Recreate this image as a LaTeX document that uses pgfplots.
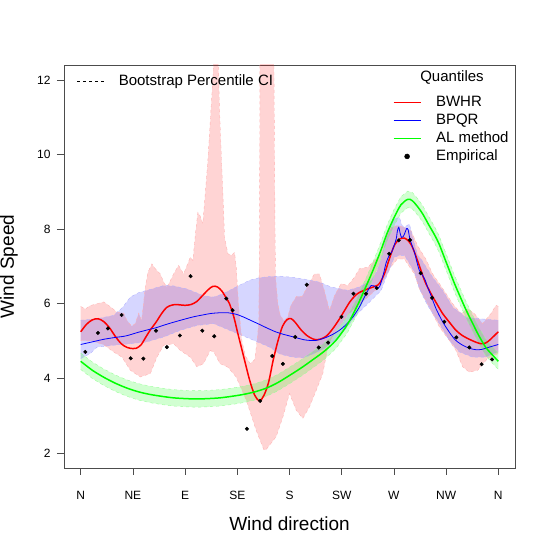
\documentclass[border=0pt]{standalone}
\usepackage{fontspec}
\setmainfont{Liberation Sans}
\usepackage{pgfplots}
\pgfplotsset{compat=1.18}
\usepgfplotslibrary{fillbetween}

\definecolor{rred}{RGB}{255,0,0}
\definecolor{rblue}{RGB}{0,0,255}
\definecolor{rgreen}{RGB}{0,255,0}

% BWHR quantile curve
\pgfplotstableread{
x y
0 5.25
5 5.45
10 5.57
15 5.60
20 5.52
25 5.35
30 5.12
35 4.93
40 4.83
45 4.80
48 4.81
52 4.90
56 5.10
60 5.30
65 5.51
70 5.75
74 5.90
78 5.96
82 5.98
86 5.97
90 5.96
95 5.98
100 6.06
105 6.22
110 6.38
114 6.47
118 6.45
122 6.33
125.5 6.15
128.3 6.00
132 5.65
135.5 5.20
139.8 4.67
145.5 3.97
150 3.55
154.2 3.40
158 3.55
162 3.90
166 4.50
170 5.00
174 5.40
178 5.58
181.5 5.60
185 5.50
190 5.30
195 5.15
200 5.06
204 5.04
208 5.07
212 5.14
216 5.28
220 5.45
224 5.64
228 5.85
232 6.05
236 6.20
240 6.30
247.5 6.40
256 6.50
259 6.62
262 6.82
265 7.10
268 7.38
271 7.60
275 7.74
279 7.76
282 7.70
285 7.58
288 7.36
291 7.10
293.4 6.89
297 6.58
302 6.27
307 6.00
312 5.74
318 5.50
323.5 5.29
329 5.15
335 5.05
340 4.98
345 4.93
349 4.95
352.3 5.02
356 5.13
360 5.25
}\bwhr

% BPQR quantile curve
\pgfplotstableread{
x y
0 4.91
10 4.98
20 5.05
30 5.10
39 5.14
50 5.24
60 5.32
65 5.36
75 5.46
85 5.55
97 5.65
105 5.70
112 5.74
120 5.76
127 5.76
134 5.72
140 5.65
147 5.55
154 5.45
160 5.36
168 5.25
175 5.18
180 5.14
186 5.09
192 5.04
197 5.02
203 5.02
209 5.07
216 5.16
223 5.29
229 5.45
234.5 5.64
240 5.90
244.6 6.18
248 6.38
250.4 6.49
253 6.48
255.5 6.42
257.5 6.45
259 6.58
261 6.80
263.3 7.10
266 7.30
268 7.38
270 7.55
272 7.74
273 7.95
274.2 8.05
275.3 7.90
276.5 7.78
278 7.80
279.5 7.90
281 8.02
282.3 7.98
283.5 7.78
285 7.62
287.7 7.38
290 7.10
292 6.89
295 6.75
297.1 6.63
299 6.45
302 6.22
306.3 5.87
312 5.52
317.8 5.24
323 5.03
329.3 4.89
335 4.81
340.8 4.77
346 4.78
352.3 4.84
360 4.91
}\bpqr

% AL method curve with its band
\pgfplotstableread{
x y lo hi
0 4.46 4.24 4.68
10 4.22 4.00 4.44
20 4.03 3.81 4.25
30 3.87 3.65 4.09
40 3.74 3.52 3.96
50 3.64 3.42 3.86
60 3.57 3.35 3.79
70 3.52 3.30 3.74
80 3.48 3.26 3.70
90 3.46 3.24 3.68
100 3.45 3.23 3.67
110 3.46 3.24 3.68
120 3.48 3.26 3.70
130 3.52 3.30 3.74
140 3.57 3.35 3.79
150 3.64 3.42 3.86
160 3.74 3.52 3.96
170 3.89 3.67 4.11
180 4.08 3.86 4.30
190 4.28 4.06 4.50
200 4.50 4.28 4.72
210 4.73 4.51 4.95
220 5.02 4.80 5.24
230 5.45 5.23 5.67
238 5.92 5.70 6.14
245 6.40 6.18 6.62
252 6.90 6.68 7.12
259 7.45 7.23 7.67
264 7.88 7.66 8.10
270 8.30 8.08 8.52
276 8.65 8.43 8.87
282 8.80 8.58 9.02
286 8.76 8.54 8.98
291 8.58 8.36 8.80
295 8.40 8.18 8.62
300 8.12 7.90 8.34
305 7.85 7.63 8.07
309 7.60 7.38 7.82
314 7.20 6.98 7.42
318 6.88 6.66 7.10
322 6.56 6.34 6.78
326 6.27 6.05 6.49
332 5.85 5.63 6.07
338 5.47 5.25 5.69
343 5.16 4.94 5.38
349 4.84 4.62 5.06
354 4.66 4.44 4.88
360 4.46 4.24 4.68
}\almeth

% BWHR bootstrap percentile CI, upper and lower edge
\pgfplotstableread{
x y
0 5.93
4 5.86
8 5.95
14 6.00
20 6.05
26 5.91
31 5.78
37 5.75
40 5.55
44 5.40
47 5.47
50 5.75
52.5 5.55
55.7 6.45
58 6.85
61.4 7.07
64 6.95
68.6 6.80
72 6.55
74.3 6.45
77 6.60
80.1 6.80
84.4 7.03
88.7 6.80
92 7.05
94.5 7.25
96.7 7.16
99 7.90
101 8.45
103 8.35
105.3 8.15
107.5 9.00
109.6 9.83
114 12.06
115 12.8
118.3 12.8
119.7 11.17
122.6 8.94
124 7.78
126.9 7.34
130 7.30
132.6 7.38
134.1 6.98
136 6.00
139 5.00
142 4.60
146 4.40
150 4.50
152 5.00
153.5 5.50
154.2 8.00
154.5 12.8
166.5 12.8
167.5 8.00
168 6.70
170 6.00
172 5.70
175 5.55
178.5 5.64
181 5.95
186 6.20
191 6.20
196 6.50
201.5 6.80
205.8 6.80
210 6.36
214.5 5.82
218.8 6.22
224.5 6.54
230.2 6.49
236 6.71
240.3 6.94
247.5 6.98
253.2 7.16
259 7.34
263.3 7.78
267.6 8.05
273.3 8.10
279 8.05
284.8 7.96
290.5 7.55
297.5 7.20
303.4 6.80
309.2 6.54
315 6.27
320.7 6.00
327.9 5.74
333.6 5.87
339.3 5.74
346.5 5.47
353.7 5.74
358 5.96
360 5.93
}\pinkup
\pgfplotstableread{
x y
0 5.02
10 5.00
20 4.90
28.4 4.71
35.6 4.57
42.8 4.22
51.4 4.04
60 4.13
65.7 4.57
71.5 4.89
80.1 4.93
85.9 4.75
94.5 4.57
100.2 4.31
105.9 4.40
111.7 4.75
115 4.70
120 4.40
127 4.30
134 4.04
142.7 3.42
151.3 2.61
158 2.08
160 2.10
168.5 2.44
174.3 2.97
180 3.60
185.8 3.15
191.5 2.93
197.2 3.24
203 3.68
208.7 4.13
213 4.84
218.8 5.20
230.2 5.70
244.6 6.10
259 6.50
267.6 7.00
273 7.20
279 7.20
287.7 6.80
292 6.40
300.6 5.91
309.2 5.38
317.8 5.02
323.5 4.75
329.3 4.31
335 4.17
342.2 4.22
350.6 4.53
360 4.67
}\pinklo

% BPQR bootstrap percentile CI, upper and lower edge
\pgfplotstableread{
x y
0 5.56
14 5.60
28.4 5.69
36 5.90
42.8 6.18
50 6.30
57.1 6.36
71.5 6.49
80 6.48
91.5 6.40
105.9 6.22
114.5 6.18
121 6.25
128.3 6.36
137 6.50
145.5 6.63
154 6.70
162.8 6.73
172 6.74
182.8 6.71
195 6.65
205.8 6.58
215.9 6.45
230.2 6.36
240 6.45
250.4 6.63
255 6.85
259 7.20
264.7 7.96
270.4 8.27
274.7 8.32
277 8.10
279 8.05
283.3 8.14
287.7 7.61
290.5 7.30
293.4 7.20
303.4 6.71
312 6.36
320.7 5.91
332.2 5.64
343.6 5.60
360 5.56
}\blueup
\pgfplotstableread{
x y
0 4.53
8.3 4.67
14 4.84
28.4 4.89
42.8 4.93
57.1 4.98
71.5 5.11
85.9 5.29
100.2 5.42
114.5 5.47
128.3 5.29
145.5 5.07
162.8 4.84
172 4.65
182.8 4.57
192 4.55
201.5 4.67
210.1 4.80
218.8 5.02
227.4 5.29
238.8 5.74
250.4 6.09
259 6.36
263.3 6.71
270.4 7.25
275 7.30
279 7.30
283 7.10
287.7 6.85
292 6.40
299.2 5.95
309.2 5.47
317.8 5.02
326.4 4.71
337.9 4.57
349 4.57
360 4.71
}\bluelo

% empirical quantiles
\pgfplotstableread{
x y
4.0 4.71
14.9 5.22
23.5 5.34
35.3 5.70
43.1 4.54
54.0 4.53
64.9 5.28
74.3 4.84
85.5 5.15
94.7 6.74
104.8 5.28
115.1 5.13
125.5 6.14
130.9 5.83
143.3 2.65
154.7 3.40
165.1 4.60
174.3 4.39
184.9 5.11
194.9 6.51
205.2 4.83
213.3 4.96
224.8 5.65
235.1 6.27
246.0 6.27
255.2 6.42
265.9 7.34
274.2 7.70
283.9 7.71
293.1 6.82
302.9 6.16
313.5 5.52
323.8 5.10
335.0 4.83
345.6 4.38
354.6 4.51
}\emp

\begin{document}
\begin{tikzpicture}
\begin{axis}[
  scale only axis, width=451pt, height=403pt,
  xmin=-14.4, xmax=374.4, ymin=1.6, ymax=12.4,
  xtick={0,45,...,360}, xticklabels={N,NE,E,SE,S,SW,W,NW,N},
  ytick={2,4,...,12},
  xtick pos=bottom, ytick pos=left,
  tick align=outside, major tick length=7pt,
  axis line style={draw=black!70, line width=0.8pt},
  tick style={draw=black!70, line width=0.8pt},
  tick label style={font=\fontsize{12}{14}\selectfont},
  /pgf/number format/assume math mode=true,
  xticklabel style={yshift=-13pt},
  yticklabel style={xshift=-3pt},
  xlabel={Wind direction}, ylabel={Wind Speed},
  label style={font=\fontsize{19}{22}\selectfont},
  xlabel style={at={(axis description cs:0.5,-0.1563)}, anchor=base},
  ylabel style={at={(axis description cs:-0.1109,0.5)}, anchor=base},
  legend style={draw=none, fill=none, at={(0.7295,0.9256)}, anchor=north west,
    font=\fontsize{15}{18}\selectfont, inner sep=0pt, row sep=3.5pt,
    nodes={inner sep=0pt, text height=11pt, text depth=3.5pt},
    /tikz/every odd column/.append style={column sep=15pt}},
  legend cell align=left,
  legend image code/.code={\draw[mark repeat=2, mark phase=2, #1]
    plot coordinates {(0pt,0pt) (13.5pt,0pt) (27pt,0pt)};},
]
% bands
\addplot[forget plot, draw=rred!30, dashed, line width=0.4pt, name path=pu] table {\pinkup};
\addplot[forget plot, draw=rred!30, dashed, line width=0.4pt, name path=pl] table {\pinklo};
\addplot[forget plot, fill=rred, fill opacity=0.17, draw=none] fill between[of=pu and pl];
\addplot[forget plot, draw=rblue!30, dashed, line width=0.4pt, name path=bu] table {\blueup};
\addplot[forget plot, draw=rblue!30, dashed, line width=0.4pt, name path=bl] table {\bluelo};
\addplot[forget plot, fill=rblue, fill opacity=0.16, draw=none] fill between[of=bu and bl];
\addplot[forget plot, draw=rgreen!40, dashed, line width=0.4pt, name path=gu] table[y=hi] {\almeth};
\addplot[forget plot, draw=rgreen!40, dashed, line width=0.4pt, name path=gl] table[y=lo] {\almeth};
\addplot[forget plot, fill=rgreen, fill opacity=0.18, draw=none] fill between[of=gu and gl];
% curves
\addplot[forget plot, rred, line width=1.5pt, smooth] table {\bwhr};
\addplot[forget plot, rblue, line width=0.8pt, smooth] table {\bpqr};
\addplot[forget plot, rgreen, line width=1.5pt, smooth] table[y=y] {\almeth};
\addplot[forget plot, only marks, mark=*, mark size=1.8pt, black] table {\emp};
% legend
\addlegendimage{draw=rred, line width=0.8pt}
\addlegendentry{BWHR}
\addlegendimage{draw=rblue, line width=0.8pt}
\addlegendentry{BPQR}
\addlegendimage{draw=rgreen, line width=0.8pt}
\addlegendentry{AL method}
\addlegendimage{only marks, mark=*, mark size=2.5pt, draw=black, fill=black}
\addlegendentry{Empirical}
\end{axis}
\begin{axis}[
  scale only axis, width=451pt, height=403pt, hide axis,
  xmin=0, xmax=1, ymin=0, ymax=1,
  legend style={draw=none, fill=none, at={(0.0288,0.9776)}, anchor=north west,
    font=\fontsize{15}{18}\selectfont, inner sep=0pt,
    nodes={inner sep=0pt, text height=11pt, text depth=3.5pt},
    /tikz/every odd column/.append style={column sep=14pt}},
  legend image code/.code={\draw[#1] (0pt,0pt) -- (27pt,0pt);},
]
\addplot[forget plot, draw=none] coordinates {(0,0) (1,1)};
\addlegendimage{draw=black, line width=0.6pt, dash pattern=on 3pt off 3pt}
\addlegendentry{Bootstrap Percentile CI}
\end{axis}
\node[font=\fontsize{15}{18}\selectfont] at (388pt,391pt) {Quantiles};
\pgfresetboundingbox
\path[use as bounding box] (-64pt,-80pt) rectangle (484pt,468pt);
\end{tikzpicture}
\end{document}
